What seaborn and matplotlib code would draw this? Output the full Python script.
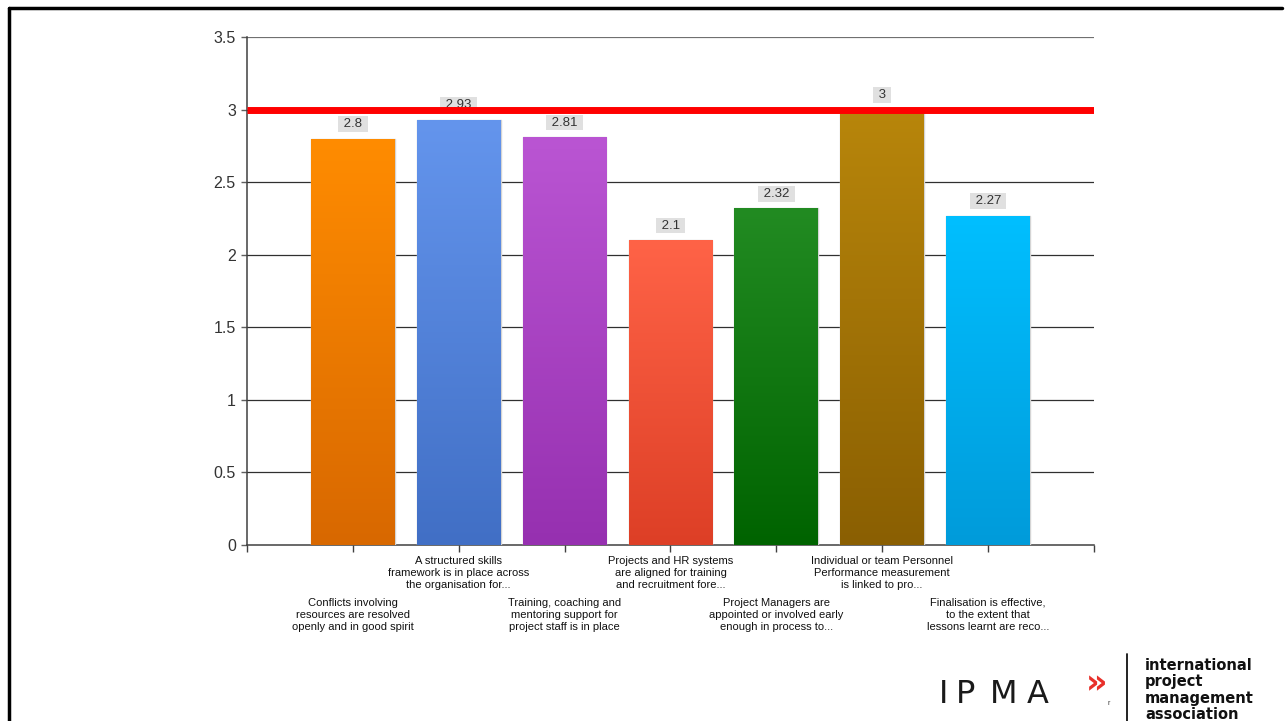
import numpy as np
import pandas as pd
import matplotlib
matplotlib.use("Agg")
import matplotlib.pyplot as plt
import matplotlib.colors as mcolors
from matplotlib.lines import Line2D
import seaborn as sns

# Survey statements (wrapped as shown on the axis) and their mean scores
categories = [
    "Conflicts involving\nresources are resolved\nopenly and in good spirit",
    "A structured skills\nframework is in place across\nthe organisation for...",
    "Training, coaching and\nmentoring support for\nproject staff is in place",
    "Projects and HR systems\nare aligned for training\nand recruitment fore...",
    "Project Managers are\nappointed or involved early\nenough in process to...",
    "Individual or team Personnel\nPerformance measurement\nis linked to pro...",
    "Finalisation is effective,\nto the extent that\nlessons learnt are reco...",
]
scores = [2.8, 2.93, 2.81, 2.1, 2.32, 3.0, 2.27]
value_labels = ["2.8", "2.93", "2.81", "2.1", "2.32", "3", "2.27"]
target = 3.0
y_ticks = [0, 0.5, 1, 1.5, 2, 2.5, 3, 3.5]
y_tick_labels = ["0", "0.5", "1", "1.5", "2", "2.5", "3", "3.5"]

# Gradient colours per bar: top (light) and bottom (dark)
top_colors = ["#FF8C00", "#6495ED", "#BA55D3", "#FF6347", "#228B22", "#B8860B", "#00BFFF"]
bottom_colors = ["#D86800", "#416FC5", "#9630B0", "#DD3F26", "#006300", "#8A5F02", "#009BDA"]

sns.set_theme(style="white")
plt.rcParams["font.family"] = ["Liberation Sans", "DejaVu Sans"]

fig = plt.figure(figsize=(12.85, 7.21), dpi=100)
ax = fig.add_axes([0.1922, 0.2441, 0.6591, 0.7046])

df = pd.DataFrame({"pos": np.arange(1, len(scores) + 1), "score": scores,
                   "cat": categories})
sns.barplot(data=df, x="pos", y="score", hue="pos", palette=top_colors,
            order=np.arange(0, len(scores) + 2), native_scale=True,
            width=0.79, legend=False, ax=ax, edgecolor="#D4D4D4", linewidth=1,
            zorder=3)

ax.set_xlim(0, len(scores) + 1)
ax.set_ylim(0, 3.5)

# Vertical colour gradient inside each bar
for patch, c_top, c_bot in zip(ax.patches, top_colors, bottom_colors):
    x0, y0 = patch.get_x(), patch.get_y()
    w, h = patch.get_width(), patch.get_height()
    cmap = mcolors.LinearSegmentedColormap.from_list("g", [c_bot, c_top])
    grad = np.linspace(0, 1, 256).reshape(-1, 1)
    im = ax.imshow(grad, cmap=cmap, aspect="auto", origin="lower",
                   extent=(x0, x0 + w, y0, y0 + h), zorder=3.1,
                   interpolation="bicubic")
    im.set_clip_path(patch)
ax.set_xlim(0, len(scores) + 1)
ax.set_ylim(0, 3.5)
ax.set_aspect("auto")

# Value labels in grey boxes
for xpos, val, lab in zip(df["pos"], scores, value_labels):
    ax.annotate(f" {lab} ", xy=(xpos, val), xytext=(0, 10.5),
                textcoords="offset points", ha="center", va="center",
                fontsize=9.5, color="#333333", zorder=4,
                bbox=dict(boxstyle="square,pad=0.14", facecolor="#E0E0E0",
                          edgecolor="none"))

# Target line
ax.axhline(target, color="#FF0000", lw=5, zorder=5, solid_capstyle="butt")

# Grid and axes styling
ax.set_yticks(y_ticks)
ax.set_yticklabels(y_tick_labels, fontsize=11.5, color="#333333")
for yv in y_ticks[1:]:
    ax.axhline(yv, color="#707070" if yv == 3.5 else "#303030",
               lw=1.6 if yv == 3.5 else 0.9, zorder=1)
ax.grid(False)
for side in ["top", "right"]:
    ax.spines[side].set_visible(False)
for side in ["left", "bottom"]:
    ax.spines[side].set_color("#404040")
    ax.spines[side].set_linewidth(1.1)
ax.tick_params(axis="y", length=4, width=1, color="#606060", pad=4, left=True)

ax.set_xticks(np.arange(0, len(scores) + 2))
ax.set_xticklabels([""] + categories + [""], fontsize=8, color="#111111",
                   linespacing=1.25)
ax.tick_params(axis="x", length=5, width=1, color="#404040", bottom=True)
ticks = ax.xaxis.get_major_ticks()
for i, t in enumerate(ticks):
    if 1 <= i <= len(scores):
        t.set_pad(3 if i % 2 == 0 else 33)
ax.set_xlabel("")
ax.set_ylabel("")

# Outer frame (top and left edges)
fig.add_artist(Line2D([0.007, 0.998], [0.989, 0.989], color="black", lw=2.5,
                      transform=fig.transFigure))
fig.add_artist(Line2D([0.007, 0.007], [0.0, 0.989], color="black", lw=2.5,
                      transform=fig.transFigure))

# IPMA logo
for letter, xl in zip("IPMA", [0.731, 0.744, 0.770, 0.799]):
    fig.text(xl, 0.025, letter, fontsize=23, color="#1A1A1A",
             family="DejaVu Sans", ha="left", va="baseline")
fig.text(0.845, 0.038, "»", fontsize=24, color="#E8302A", family="DejaVu Sans",
         fontweight="bold", ha="left", va="baseline")
fig.text(0.862, 0.022, "r", fontsize=5, color="#333333", ha="left")
fig.add_artist(Line2D([0.877, 0.877], [0.0, 0.093], color="#111111", lw=1.3,
                      transform=fig.transFigure))
fig.text(0.891, 0.087, "international\nproject\nmanagement\nassociation",
         fontsize=10.5, fontweight="bold", color="#111111", ha="left",
         va="top", linespacing=1.1, family="DejaVu Sans")

fig.savefig("out.png", dpi=100, facecolor="white")
